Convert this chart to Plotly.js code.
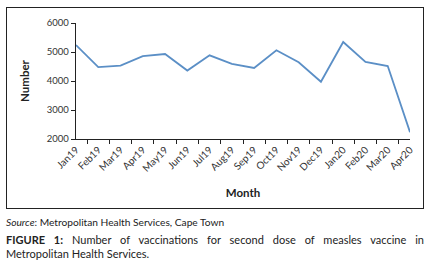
<!DOCTYPE html>
<html><head><meta charset="utf-8">
<script src="https://cdn.plot.ly/plotly-3.0.1.min.js"></script>
<style>
html,body{margin:0;padding:0;background:#fff;}
#wrap{position:relative;width:433px;height:270px;overflow:hidden;}
#chart{position:absolute;left:0;top:0;width:433px;height:270px;}
#box{position:absolute;left:6px;top:7px;width:416px;height:200px;border:1.5px solid #222;pointer-events:none;}
.cap{position:absolute;left:6px;width:418px;font-family:Lato,"Open Sans",sans-serif;color:#222;white-space:nowrap;}
#src{top:216px;font-size:10.2px;line-height:13px;}
#fig1{top:233px;font-size:11px;line-height:14px;text-align:justify;text-align-last:justify;white-space:normal;}
#fig2{top:247px;font-size:11px;line-height:14px;}
</style></head>
<body><div id="wrap"><div id="chart"></div><div id="box"></div>
<div class="cap" id="src"><i>Source</i>: Metropolitan Health Services, Cape Town</div>
<div class="cap" id="fig1"><b>FIGURE 1:</b> Number of vaccinations for second dose of measles vaccine in</div>
<div class="cap" id="fig2">Metropolitan Health Services.</div>
</div>
<script>
const months = ["Jan19","Feb19","Mar19","Apr19","May19","Jun19","Jul19","Aug19","Sep19","Oct19","Nov19","Dec19","Jan20","Feb20","Mar20","Apr20"];
const vaccinations = [5240,4480,4530,4860,4930,4360,4885,4590,4450,5060,4645,3975,5345,4655,4515,2235];
const yTicks = [2000,3000,4000,5000,6000];

const fontFam = 'Lato,"Open Sans",sans-serif';
Plotly.newPlot('chart',[{
  x: months, y: vaccinations, type:'scatter', mode:'lines',
  line:{color:'#5b8fc6', width:1.8}, hoverinfo:'skip'
}],{
  width:433, height:270,
  margin:{l:76,r:23,t:23,b:131,pad:0},
  paper_bgcolor:'rgba(0,0,0,0)', plot_bgcolor:'#fff',
  showlegend:false,
  font:{family:fontFam, color:'#222'},
  xaxis:{type:'category', tickson:'boundaries', ticks:'outside', ticklen:4, tickcolor:'#222',
    showline:true, linecolor:'#222', linewidth:1.2, showgrid:false, zeroline:false,
    tickangle:-45, tickfont:{size:10, family:fontFam, color:'#333'},
    title:{text:'<b>Month</b>', font:{size:11.5, family:fontFam, color:'#222'}, standoff:16}},
  yaxis:{range:[2000,6000], tickvals:yTicks, ticktext:yTicks.map(String), ticks:'outside', ticklen:4, tickcolor:'#222',
    showline:true, linecolor:'#222', linewidth:1.2, showgrid:false, zeroline:false,
    tickfont:{size:9.5, family:fontFam, color:'#333'},
    title:{text:'<b>Number</b>', font:{size:11.5, family:fontFam, color:'#222'}, standoff:14}}
},{staticPlot:true, displayModeBar:false});
</script></body></html>
